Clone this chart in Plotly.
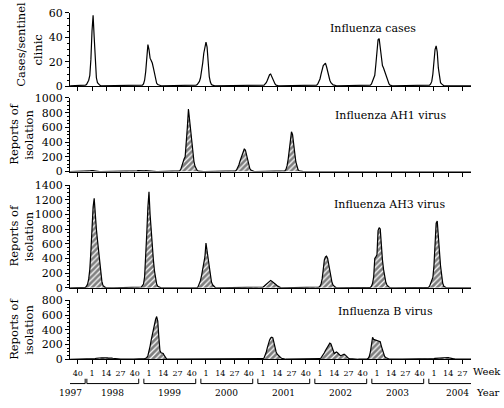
import plotly.graph_objects as go

# ---------------- data (weekly values) ----------------
# Each season list runs week by week starting at (season_years[i], season_first_week[i])
season_years = [1997, 1998, 1999, 2000, 2001, 2002, 2003]
season_first_week = [33, 36, 36, 36, 36, 36, 36]

# Influenza cases per sentinel clinic
cases_9798 = [0.5, 0.5, 0.5, 0.5, 0.5, 0.5, 0.5, 0.5, 0.5, 0.5,
              0.5, 0.5, 0.5, 0.5, 1, 1.5, 3, 5, 9, 22,
              45, 58, 40, 18, 7, 3, 1.5, 1, 0.5, 0.5,
              0.5, 0.5, 0.5, 0.5, 0.5, 0.5, 0.5, 0.5, 0.5, 0.5,
              0.5, 0.5, 0.5, 0.5, 0.5, 0.5, 0.5, 0.5, 0.5, 0.5,
              0.5, 0.5, 0.5, 0.5, 0.5]
cases_9899 = [0.5, 0.5, 0.5, 0.5, 0.5, 0.5, 0.5, 0.5, 0.5, 0.5,
              0.5, 1, 2, 5, 12, 25, 34,
              30, 23, 21, 19, 15, 10, 5, 2.5, 1.5, 1,
              0.5, 0.5, 0.5, 0.5, 0.5, 0.5, 0.5, 0.5, 0.5, 0.5,
              0.5, 0.5, 0.5, 0.5, 0.5, 0.5, 0.5, 0.5, 0.5, 0.5,
              0.5, 0.5, 0.5, 0.5, 0.5]
cases_9900 = [0.5, 0.5, 0.5, 0.5, 0.5, 0.5, 0.5, 0.5, 1, 1.5,
              2.5, 4, 7, 12, 19, 27, 33,
              36, 32, 18, 8, 3.5, 1.5, 1, 0.5, 0.5, 0.5,
              0.5, 0.5, 0.5, 0.5, 0.5, 0.5, 0.5, 0.5, 0.5, 0.5,
              0.5, 0.5, 0.5, 0.5, 0.5, 0.5, 0.5, 0.5, 0.5, 0.5,
              0.5, 0.5, 0.5, 0.5, 0.5]
cases_0001 = [0.5, 0.5, 0.5, 0.5, 0.5, 0.5, 0.5, 0.5, 0.5, 0.5,
              0.5, 0.5, 0.5, 0.5, 0.5, 0.5, 0.5,
              0.8, 1, 2, 3, 5, 7, 9.5, 10, 8, 5,
              3, 2, 1, 0.5, 0.5, 0.5, 0.5, 0.5, 0.5, 0.5,
              0.5, 0.5, 0.5, 0.5, 0.5, 0.5, 0.5, 0.5, 0.5, 0.5,
              0.5, 0.5, 0.5, 0.5, 0.5]
cases_0102 = [0.5, 0.5, 0.5, 0.5, 0.5, 0.5, 0.5, 0.5, 0.5, 0.5,
              0.5, 0.5, 0.5, 0.5, 1, 2, 3.5,
              6, 10, 14, 17, 18, 19, 16, 12, 8, 5,
              3, 2, 1.2, 1, 0.5, 0.5, 0.5, 0.5, 0.5, 0.5,
              0.5, 0.5, 0.5, 0.5, 0.5, 0.5, 0.5, 0.5, 0.5, 0.5,
              0.5, 0.5, 0.5, 0.5, 0.5]
cases_0203 = [0.5, 0.5, 0.5, 0.5, 0.5, 0.5, 0.5, 0.5, 0.5, 0.5,
              0.5, 1, 2, 5, 8, 9, 18,
              30, 38, 39, 30, 22, 17, 15, 12, 9, 6,
              3, 2, 1, 0.5, 0.5, 0.5, 0.5, 0.5, 0.5, 0.5,
              0.5, 0.5, 0.5, 0.5, 0.5, 0.5, 0.5, 0.5, 0.5, 0.5,
              0.5, 0.5, 0.5, 0.5, 0.5]
cases_0304 = [0.5, 0.5, 0.5, 0.5, 0.5, 0.5, 0.5, 0.5, 0.5, 0.5,
              0.5, 0.5, 0.5, 1, 2, 4, 10,
              20, 30, 33, 28, 15, 7, 3, 2, 1, 0.5,
              0.5, 0.5, 0.5, 0.5, 0.5, 0.5, 0.5, 0.5, 0.5, 0.5,
              0.5, 0.5, 0.5, 0.5, 0.5, 0.5, 0.5, 0.5, 0.5, 0.5,
              0.5, 0.5, 0.5, 0.5, 0.5]

# Reports of isolation, influenza AH1
ah1_9798 = [0, 0, 0, 0, 0, 0, 0, 0, 0, 0,
            0, 0, 0, 0, 0, 0, 2, 5, 8, 12,
            15, 12, 10, 6, 3, 2, 1, 0, 0, 0,
            0, 0, 0, 0, 0, 0, 0, 0, 0, 0,
            0, 0, 0, 0, 0, 0, 0, 0, 0, 0,
            0, 0, 0, 0, 0]
ah1_9899 = [2, 5, 8, 10, 10, 8, 10, 12, 10, 8,
            10, 10, 8, 10, 12, 10, 8,
            5, 3, 1, 0, 0, 0, 0, 0, 0, 0,
            0, 0, 0, 0, 0, 0, 0, 0, 0, 0,
            0, 0, 0, 0, 0, 0, 0, 5, 10, 30,
            80, 140, 170, 200, 350]
ah1_9900 = [600, 850, 700, 550, 400, 250, 140, 70, 30, 15,
            5, 2, 0, 0, 0, 0, 0,
            0, 0, 0, 0, 0, 0, 0, 0, 0, 0,
            0, 0, 0, 0, 0, 0, 0, 0, 0, 0,
            0, 0, 0, 0, 0, 0, 0, 10, 25, 50,
            90, 140, 190, 210, 270]
ah1_0001 = [310, 290, 220, 140, 80, 40, 20, 10, 5, 0,
            0, 0, 0, 0, 0, 0, 0,
            0, 0, 0, 0, 0, 0, 0, 0, 0, 0,
            0, 0, 0, 0, 0, 0, 0, 0, 0, 0,
            10, 30, 80, 170, 300, 450, 540, 500, 400, 250,
            130, 60, 25, 10, 5]
ah1_0102 = [2, 0, 0, 0, 0, 0, 0, 0, 0, 0,
            0, 0, 0, 0, 0, 0, 0,
            0, 0, 0, 0, 0, 0, 0, 0, 0, 0,
            0, 0, 0, 0, 0, 0, 0, 0, 0, 0,
            0, 3, 5, 8, 8, 5, 3, 2, 0, 0,
            0, 0, 0, 0, 0]
ah1_0203 = [0, 0, 0, 0, 0, 0, 0, 0, 0, 0,
            0, 0, 0, 0, 0, 0, 0,
            0, 0, 0, 0, 2, 4, 5, 4, 2, 0,
            0, 0, 0, 0, 0, 0, 0, 0, 0, 0,
            0, 0, 0, 0, 0, 0, 0, 0, 0, 0,
            2, 4, 5, 6, 8]
ah1_0304 = [8, 10, 10, 8, 10, 8, 5, 3, 2, 0,
            0, 0, 0, 0, 0, 0, 0,
            0, 0, 0, 0, 0, 0, 0, 0, 0, 0,
            0, 0, 0, 0, 0, 0, 0, 0, 0, 0,
            0, 0, 0, 0, 0, 0, 0, 0, 0, 0,
            0, 0, 0, 0, 0]

# Reports of isolation, influenza AH3
ah3_9798 = [0, 0, 0, 0, 0, 0, 0, 0, 0, 0,
            0, 0, 0, 0, 5, 20, 50, 120, 250, 500,
            850, 1100, 1220, 950, 800, 650, 500, 330, 200, 90,
            30, 10, 5, 2, 0, 0, 0, 0, 0, 0,
            0, 0, 0, 0, 0, 0, 0, 0, 0, 0,
            0, 0, 0, 0, 0]
ah3_9899 = [0, 0, 0, 0, 0, 0, 0, 0, 0, 0,
            10, 30, 50, 150, 400, 750, 1100,
            1310, 1000, 750, 550, 380, 230, 120, 50, 20, 10,
            0, 0, 0, 0, 0, 0, 0, 0, 0, 0,
            0, 0, 0, 0, 0, 0, 0, 0, 0, 0,
            0, 0, 0, 0, 0]
ah3_9900 = [0, 0, 0, 0, 0, 0, 0, 0, 0, 0,
            20, 50, 100, 170, 250, 330, 420,
            610, 500, 380, 250, 150, 80, 40, 20, 10, 0,
            0, 0, 0, 0, 0, 0, 0, 0, 0, 0,
            0, 0, 0, 0, 0, 0, 0, 0, 0, 0,
            0, 0, 0, 0, 0]
ah3_0001 = [0, 0, 0, 0, 0, 0, 0, 0, 0, 0,
            0, 0, 0, 0, 0, 0, 0,
            10, 20, 35, 50, 65, 80, 95, 100, 90, 80,
            70, 55, 40, 25, 15, 8, 3, 0, 0, 0,
            0, 0, 0, 0, 0, 0, 0, 0, 0, 0,
            0, 0, 0, 0, 0]
ah3_0102 = [0, 0, 0, 0, 0, 0, 0, 0, 0, 0,
            0, 0, 0, 0, 0, 5, 10,
            20, 50, 120, 250, 380, 420, 430, 400, 320, 220,
            130, 70, 35, 15, 8, 0, 0, 0, 0, 0,
            0, 0, 0, 0, 0, 0, 0, 0, 0, 0,
            0, 0, 0, 0, 0]
ah3_0203 = [0, 0, 0, 0, 0, 0, 0, 0, 0, 0,
            0, 5, 20, 60, 150, 400, 420,
            450, 780, 820, 800, 550, 380, 250, 150, 80, 40,
            20, 8, 3, 0, 0, 0, 0, 0, 0, 0,
            0, 0, 0, 0, 0, 0, 0, 0, 0, 0,
            0, 0, 0, 0, 0]
ah3_0304 = [0, 0, 0, 0, 0, 0, 0, 0, 0, 0,
            0, 0, 5, 20, 60, 120, 140,
            300, 600, 880, 910, 750, 500, 300, 150, 60, 20,
            8, 3, 0, 0, 0, 0, 0, 0, 0, 0,
            0, 0, 0, 0, 0, 0, 0, 0, 0, 0,
            0, 0, 0, 0, 0]

# Reports of isolation, influenza B
b_9798 = [0, 0, 0, 0, 0, 0, 0, 0, 0, 0,
          2, 2, 3, 3, 3, 3, 3, 3, 4, 5,
          5, 6, 8, 10, 15, 18, 20, 22, 25, 22,
          20, 22, 25, 22, 20, 18, 20, 22, 18, 15,
          12, 10, 8, 6, 5, 4, 3, 3, 2, 2,
          2, 2, 2, 2, 2]
b_9899 = [2, 2, 2, 2, 2, 2, 3, 3, 4, 5,
          5, 6, 8, 10, 15, 25, 50,
          100, 180, 260, 340, 420, 480, 540, 580, 520, 300,
          120, 90, 85, 80, 50, 20, 8, 5, 3, 2,
          2, 2, 2, 2, 2, 2, 2, 2, 2, 2,
          2, 2, 2, 2, 2]
b_9900 = [2, 2, 2, 3, 3, 2, 2, 2, 3, 3,
          2, 2, 2, 2, 3, 3, 2,
          3, 3, 3, 4, 4, 5, 5, 5, 4, 4,
          3, 3, 3, 3, 2, 2, 2, 2, 2, 2,
          2, 2, 2, 2, 2, 2, 2, 2, 2, 2,
          2, 2, 2, 2, 2]
b_0001 = [2, 2, 2, 2, 2, 2, 2, 2, 2, 2,
          2, 3, 3, 3, 4, 5, 6,
          10, 20, 50, 100, 160, 220, 260, 290, 300, 290,
          220, 150, 100, 70, 50, 35, 25, 15, 10, 5,
          3, 2, 2, 2, 2, 2, 2, 2, 2, 2,
          2, 2, 2, 2, 2]
b_0102 = [2, 2, 2, 2, 2, 2, 2, 2, 2, 2,
          2, 2, 3, 3, 4, 5, 6,
          10, 20, 40, 60, 90, 120, 150, 180, 210, 220,
          210, 170, 110, 80, 90, 100, 90, 70, 60, 50,
          55, 65, 70, 60, 40, 25, 15, 10, 8, 5,
          3, 2, 2, 2, 2]
b_0203 = [2, 2, 2, 2, 2, 2, 2, 2, 5, 15,
          40, 100, 200, 300, 270, 265, 270,
          260, 255, 250, 240, 180, 120, 70, 40, 25, 15,
          10, 5, 3, 2, 2, 2, 2, 2, 2, 2,
          2, 2, 2, 2, 2, 2, 2, 2, 2, 2,
          2, 2, 2, 2, 2]
b_0304 = [2, 2, 2, 2, 2, 2, 2, 2, 3, 3,
          3, 4, 5, 5, 6, 8, 10,
          12, 14, 15, 18, 20, 22, 25, 28, 30, 28,
          25, 28, 30, 25, 20, 15, 12, 10, 8, 6,
          5, 4, 3, 3, 2, 2, 2, 2, 2, 2,
          2, 2, 2, 2, 2]

panel_labels = ["Influenza cases", "Influenza AH1 virus",
                "Influenza AH3 virus", "Influenza B virus"]
y_max = [60, 1000, 1400, 800]
y_major = [20, 200, 200, 200]
y_minor = [5, 50, 50, 50]

tick_weeks = [1, 14, 27, 40]
tick_years = [1997, 1998, 1999, 2000, 2001, 2002, 2003, 2004]
label_years = [1997, 1998, 1999, 2000, 2001, 2002, 2003, 2004]

series = [
    [cases_9798, cases_9899, cases_9900, cases_0001, cases_0102, cases_0203, cases_0304],
    [ah1_9798, ah1_9899, ah1_9900, ah1_0001, ah1_0102, ah1_0203, ah1_0304],
    [ah3_9798, ah3_9899, ah3_9900, ah3_0001, ah3_0102, ah3_0203, ah3_0304],
    [b_9798, b_9899, b_9900, b_0001, b_0102, b_0203, b_0304],
]

# ---------------- layout geometry ----------------
W, H = 504, 408


def py(p):
    return 1 - p / H


x_dom = [70 / W, 471 / W]
x_range = [1997.614, 2004.65]
panel_px = [(7, 83), (95, 171), (185, 291), (304, 365)]
SERIF = "DejaVu Serif"


def week_x(year, week):
    return year + (week - 1) / 52.0


fig = go.Figure()

for k, seasons in enumerate(series):
    xs, ys = [], []
    for s, vals in enumerate(seasons):
        y0, w0 = season_years[s], season_first_week[s]
        for i, v in enumerate(vals):
            xs.append(week_x(y0, w0 + i))
            ys.append(v)
    axn = "" if k == 0 else str(k + 1)
    tr = dict(x=xs, y=ys, mode="lines", line=dict(color="black", width=1.2),
              xaxis="x" + axn, yaxis="y" + axn, showlegend=False, hoverinfo="skip")
    if k > 0:
        tr.update(fill="tozeroy", fillcolor="white",
                  fillpattern=dict(shape="/", fgcolor="black", bgcolor="white",
                                   size=4, solidity=0.7))
    fig.add_trace(go.Scatter(**tr))

tv, tt = [], []
for yr in tick_years:
    for w in tick_weeks:
        xv = week_x(yr, w)
        if x_range[0] <= xv <= x_range[1]:
            tv.append(xv)
            tt.append(str(w))

layout = dict(width=W, height=H, margin=dict(l=0, r=0, t=0, b=0),
              paper_bgcolor="white", plot_bgcolor="white", showlegend=False,
              font=dict(family=SERIF, color="black"))

for k in range(4):
    axn = "" if k == 0 else str(k + 1)
    top, bot = panel_px[k]
    layout["xaxis" + axn] = dict(
        domain=x_dom, range=x_range, anchor="y" + axn,
        showline=True, linecolor="black", linewidth=1,
        ticks="outside", ticklen=4, tickwidth=1, tickcolor="black",
        tickvals=tv, ticktext=tt, showticklabels=(k == 3),
        ticklabelstandoff=2,
        tickfont=dict(family=SERIF, size=8, color="black"),
        showgrid=False, zeroline=False, fixedrange=True)
    layout["yaxis" + axn] = dict(
        domain=[py(bot), py(top)], range=[0, y_max[k]], anchor="x" + axn,
        tick0=0, dtick=y_major[k],
        showline=True, linecolor="black", linewidth=1,
        ticks="outside", ticklen=4, tickwidth=1, tickcolor="black",
        tickfont=dict(family=SERIF, size=11, color="black"),
        minor=dict(dtick=y_minor[k], ticks="outside", ticklen=2,
                   tickcolor="black", tickwidth=1, showgrid=False),
        showgrid=False, zeroline=False, fixedrange=True)

fig.update_layout(**layout)

ann = []
label_pos = [(373, 23), (390, 113), (389, 205), (385, 316)]
for k, lab in enumerate(panel_labels):
    ann.append(dict(text=lab, x=label_pos[k][0] / W, y=py(label_pos[k][1]),
                    xref="paper", yref="paper", showarrow=False,
                    xanchor="center", yanchor="middle",
                    font=dict(family=SERIF, size=11, color="black")))

# y-axis titles
ytitle_font = dict(family=SERIF, size=11.5, color="black")
ann.append(dict(text="Cases/sentinel", x=21 / W, y=py(40), xref="paper", yref="paper",
                showarrow=False, textangle=-90, xanchor="center", yanchor="middle",
                font=ytitle_font))
ann.append(dict(text="clinic", x=38 / W, y=py(46), xref="paper", yref="paper",
                showarrow=False, textangle=-90, xanchor="center", yanchor="middle",
                font=ytitle_font))
for k in range(1, 4):
    top, bot = panel_px[k]
    cy = (top + bot) / 2
    ann.append(dict(text="Reports of", x=14 / W, y=py(cy), xref="paper", yref="paper",
                    showarrow=False, textangle=-90, xanchor="center", yanchor="middle",
                    font=ytitle_font))
    ann.append(dict(text="isolation", x=29 / W, y=py(cy), xref="paper", yref="paper",
                    showarrow=False, textangle=-90, xanchor="center", yanchor="middle",
                    font=ytitle_font))

# Week / Year captions
ann.append(dict(text="Week", x=487 / W, y=py(378), xref="paper", yref="paper",
                showarrow=False, xanchor="center", yanchor="middle",
                font=dict(family=SERIF, size=10, color="black")))
ann.append(dict(text="Year", x=488 / W, y=py(399), xref="paper", yref="paper",
                showarrow=False, xanchor="center", yanchor="middle",
                font=dict(family=SERIF, size=10, color="black")))

# Year brackets and labels
shapes = []
br_top, br_bot = py(385), py(390)
line_style = dict(color="black", width=1)
for yr in label_years:
    left = yr - 0.09
    right = yr + 0.82
    first = yr == label_years[0]
    last = yr == label_years[-1]
    if first:
        left = x_range[0]
        right = yr + 0.88
    if last:
        right = x_range[1]
    shapes.append(dict(type="line", xref="x4", yref="paper", x0=left, x1=right,
                       y0=br_bot, y1=br_bot, line=line_style))
    if not first:
        shapes.append(dict(type="line", xref="x4", yref="paper", x0=left, x1=left,
                           y0=br_bot, y1=br_top, line=line_style))
    if not last:
        shapes.append(dict(type="line", xref="x4", yref="paper", x0=right, x1=right,
                           y0=br_bot, y1=br_top, line=line_style))
    lx = x_range[0] if first else (left + right) / 2 if not last else yr + 0.42
    ann.append(dict(text=str(yr), x=lx, y=py(400), xref="x4", yref="paper",
                    showarrow=False, xanchor="center", yanchor="middle",
                    font=dict(family=SERIF, size=9, color="black")))

fig.update_layout(annotations=ann, shapes=shapes)
fig.write_html("out.html")
